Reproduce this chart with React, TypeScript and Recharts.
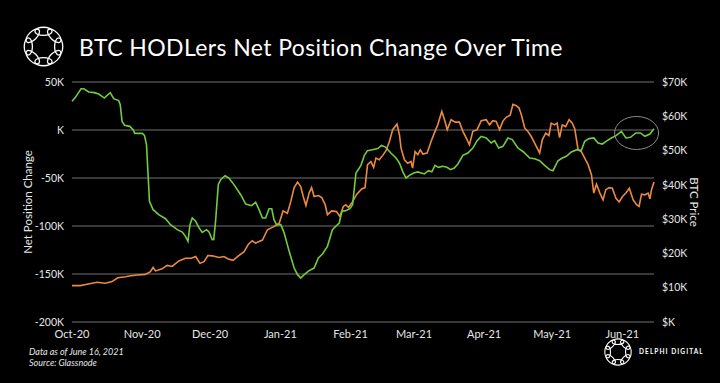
import React from 'react'
import { LineChart, Line, XAxis, YAxis, CartesianGrid, ReferenceDot } from 'recharts'

// days since Oct 1, 2020
const monthTicks = [0, 31, 61, 92, 123, 151, 182, 212, 243]
const monthLabels = ['Oct-20', 'Nov-20', 'Dec-20', 'Jan-21', 'Feb-21', 'Mar-21', 'Apr-21', 'May-21', 'Jun-21']

const leftTicks = [-200, -150, -100, -50, 0, 50]
const rightTicks = [0, 10, 20, 30, 40, 50, 60, 70]

// net position change, thousands of BTC
const netDays = [
  0, 1.5, 4, 5.2, 7.4, 9.9, 11.8, 14.3, 15.5, 16.9, 18.4, 20.6, 21.3, 22.1, 23.2, 25.5, 27, 27.7, 31, 32,
  32.9, 33.6, 34.2, 35.8, 38.3, 41.3, 43.5, 46.5, 48.7, 50.1, 51.2, 52.1, 53.1, 54.6, 56.1, 57.5, 59.4, 60.5,
  61.9, 62.6, 63.4, 64.6, 65.6, 67.6, 69.3, 71.5, 74.5, 76.7, 79.3, 81.1, 82.6, 84.1, 85.5, 87, 88.2, 89.2,
  90.3, 92.2, 93.7, 95.9, 98.1, 99.6, 101, 102.5, 104.7, 106.9, 108.8, 110.6, 112.8, 115, 116.5, 118, 119.2,
  120.9, 122.7, 123.9, 125.4, 127.6, 129.1, 130.5, 132.7, 135, 136.7, 138.6, 140.8, 143.1, 144.6, 146, 147.5,
  149, 150.9, 152.7, 154.2, 155.6, 157.4, 158.9, 160.3, 161.8, 163.7, 165.6, 167.1, 168.8, 170.4, 172.6,
  174.8, 177, 178.9, 180.7, 182.9, 185.1, 186.6, 188.4, 190.3, 192.5, 194.4, 196.9, 199.4, 202.1, 204.3,
  206.5, 208.7, 210.9, 212.4, 214.6, 216.5, 218.3, 220.5, 223, 224.9, 226.4, 228.3, 230.4, 232.3, 234.2,
  236.3, 238.2, 240.4, 242.6, 244.6, 246.6, 249, 251, 253, 255.2, 257,
]
const netValues = [
  29.9, 34, 43, 43, 39.6, 38.9, 37.5, 33.3, 36.1, 38.9, 32.6, 30.6, 26.4, 9, 4.9, 3.8, 0.3, -3.5, -3.5, -5.6,
  -15.3, -46.5, -74.3, -83, -88.2, -92.4, -98.6, -103.8, -106.3, -110.8, -116, -98.6, -91.7, -95.1, -102, -106.6, -103.8, -106.3,
  -114.2, -114, -95, -56.9, -51.7, -47.6, -50, -56.9, -67.4, -77.1, -78.8, -75.3, -83, -91.7, -91.7, -82, -82, -93.4,
  -98.6, -98.6, -107.3, -126.4, -143.8, -150.7, -154.2, -150.7, -146.5, -143.8, -133.3, -129.2, -121.2, -103.8, -100.3, -96.9, -84.7,
  -84, -82, -77.8, -44.8, -36.8, -26.4, -21.5, -20.5, -19.4, -16, -18.1, -24, -29.2, -34.4, -43.1, -50,
  -47.2, -44.8, -43.7, -44.8, -45.8, -42.4, -43.5, -36.8, -38.9, -37.8, -38.9, -41.3, -39.6, -35.4, -26.4,
  -24, -18.8, -11.1, -6.6, -8.3, -13.5, -11.1, -18.8, -17, -8.3, -10, -18.8, -22.9, -29.2, -30,
  -32, -36.8, -41.3, -42.4, -32, -29.2, -27.4, -22.9, -20.5, -21.5, -11.8, -9, -8.3, -13.5, -14.6,
  -11.1, -8.3, -5.6, -1.4, -8.3, -7.6, -3.1, -3.1, -6.6, -4.2, 1.4,
]

// BTC price, thousands of USD
const priceDays = [
  0, 3.7, 6.6, 11.1, 14.7, 17.7, 20.2, 23.6, 26.1, 28.8, 32.4, 34.6, 35.8, 36.9, 39.8, 42, 44.2, 47.2, 50.1,
  52.7, 54.6, 56.5, 58.3, 60, 61.9, 64.9, 67.1, 69, 71.1, 73.8, 76, 77.9, 79.6, 81.1, 82.6, 84.1, 86.3, 88.5,
  90.3, 91.5, 93.2, 95.1, 96.6, 98.1, 99.6, 101, 102.1, 103.3, 104.7, 105.8, 106.9, 108.8, 110.3, 111.8,
  112.8, 114.7, 116.8, 118.3, 119.8, 120.9, 122.1, 123.9, 125.7, 127.9, 129.4, 130.5, 132, 133.2, 134.2,
  135.7, 137.2, 138.6, 140.2, 141.6, 143.5, 144.6, 145.3, 146.8, 148.2, 149.7, 150.4, 151.5, 152.7, 153.8,
  154.9, 156.8, 158.6, 160.3, 161.5, 163.3, 164.5, 165.7, 167.4, 169.2, 171.1, 172.6, 174, 175.5, 177,
  178.9, 180.7, 182.9, 184.4, 185.8, 187.3, 188.8, 190.3, 191.7, 193.5, 194.7, 196.2, 197.4, 198.4, 199.9,
  201.3, 202.8, 204.3, 206.5, 207.7, 209.2, 210.6, 211.6, 213.1, 214.2, 215.3, 216.5, 218, 219.5, 220.9,
  222, 223.5, 224.9, 226.4, 227.9, 229.4, 230.4, 231.6, 233.1, 234.5, 235.7, 237.2, 238.6, 240.2, 241.6,
  243.1, 244.6, 246.1, 247.8, 249.3, 250.4, 251.5, 253, 254.4, 255.2, 255.9, 257,
]
const priceValues = [
  10.6, 10.6, 11.0, 11.6, 11.3, 11.8, 12.9, 13.2, 13.5, 13.7, 13.9, 14.7, 15.9, 14.9, 15.5, 16.5, 16.2, 17.8, 18.6,
  18.6, 19.1, 17.1, 17.6, 19.4, 19.3, 18.8, 19.1, 18.4, 18.0, 19.4, 20.5, 22.7, 23.7, 23.0, 23.5, 23.9, 26.9, 27.6,
  28.3, 28.8, 32.4, 31.7, 35.1, 39.2, 40.8, 39.5, 36.6, 34.0, 37.6, 39.2, 36.6, 36.9, 36.3, 34.2,
  31.3, 32.4, 32.2, 30.8, 33.7, 34.2, 33.4, 35.1, 37.2, 38.8, 39.2, 45.9, 46.8, 45.1, 47.8,
  47.3, 48.6, 49.9, 52.7, 56.1, 57.7, 54.6, 50.7, 47.3, 46.3, 46.8, 44.9, 49.7, 48.8, 50.2,
  49, 49.3, 52.7, 55.6, 57.5, 61.4, 59, 56.1, 59, 58.3, 58.3, 55.6, 53.8, 51.7, 55.6,
  56.1, 58.7, 59, 57.5, 58.7, 58.5, 56.1, 58.6, 59.7, 60.3, 63.5, 63.1, 62.4, 60.5, 56.6,
  55.6, 54.1, 52.2, 49.3, 53.2, 55.1, 54.4, 58, 57.5, 58, 53.8, 57.5, 57, 59, 58,
  56.4, 50.2, 49.7, 47.8, 45.9, 42.9, 37.6, 40.2, 37.6, 35.6, 38.6, 39.2, 39, 36.1, 35,
  36.6, 37.6, 39, 35.6, 34.2, 33.7, 37.3, 37.1, 37.6, 35.9, 38.6, 40.8,
]

type Row = { day: number; net?: number; price?: number }

const buildRows = (): Row[] => {
  const rows = new Map<number, Row>()
  netDays.forEach((d, i) => {
    const r = rows.get(d) ?? { day: d }
    r.net = netValues[i]
    rows.set(d, r)
  })
  priceDays.forEach((d, i) => {
    const r = rows.get(d) ?? { day: d }
    r.price = priceValues[i]
    rows.set(d, r)
  })
  return Array.from(rows.values()).sort((a, b) => a.day - b.day)
}

const data = buildRows()

const FONT = 'Lato, "Open Sans", sans-serif'
const TEXT = '#e6e6e6'

const RingLogo = ({ size, stroke }: { size: number; stroke: number }) => {
  const c = size / 2
  const loops = [0, 45, 90, 135, 180, 225, 270, 315]
  return (
    <svg width={size} height={size} viewBox={`0 0 ${size} ${size}`}>
      {loops.map((a) => (
        <ellipse
          key={a}
          cx={c}
          cy={c - size * 0.37}
          rx={size * 0.21}
          ry={size * 0.1}
          fill="none"
          stroke="#fff"
          strokeWidth={stroke}
          transform={`rotate(${a} ${c} ${c})`}
        />
      ))}
    </svg>
  )
}

const Ellipse = (props: any) => (
  <ellipse cx={props.cx} cy={props.cy} rx={22} ry={16.5} fill="none" stroke="#8a8a8a" strokeWidth={1} />
)

export default function App() {
  return (
    <div
      style={{
        position: 'absolute',
        left: 0,
        top: 0,
        width: 720,
        height: 383,
        background: '#000',
        overflow: 'hidden',
        fontFamily: FONT,
        color: TEXT,
      }}
    >
      <div style={{ position: 'absolute', left: 23, top: 26 }}>
        <RingLogo size={41} stroke={1.3} />
      </div>
      <div
        style={{
          position: 'absolute',
          left: 79,
          top: 34,
          fontSize: 23,
          letterSpacing: 0.4,
          lineHeight: '26px',
          color: '#fff',
          whiteSpace: 'nowrap',
        }}
      >
        BTC HODLers Net Position Change Over Time
      </div>

      <LineChart
        width={720}
        height={383}
        data={data}
        margin={{ top: 82, right: 6, bottom: 31, left: 12 }}
        style={{ position: 'absolute', left: 0, top: 0 }}
      >
        <CartesianGrid yAxisId="left" vertical={false} stroke="#707070" />
        <XAxis
          dataKey="day"
          type="number"
          domain={[0, 257]}
          ticks={monthTicks}
          tickFormatter={(v: number) => monthLabels[monthTicks.indexOf(v)] ?? ''}
          axisLine={false}
          tickLine={false}
          height={30}
          tick={{ fill: TEXT, fontSize: 11 }}
          interval={0}
        />
        <YAxis
          yAxisId="left"
          domain={[-200, 50]}
          ticks={leftTicks}
          tickFormatter={(v: number) => (v === 0 ? 'K' : `${v}K`)}
          axisLine={false}
          tickLine={false}
          width={60}
          tick={{ fill: TEXT, fontSize: 10.5 }}
          label={{
            value: 'Net Position Change',
            angle: -90,
            position: 'insideLeft',
            offset: 16,
            style: { textAnchor: 'middle', fill: TEXT, fontSize: 11.5 },
          }}
        />
        <YAxis
          yAxisId="right"
          orientation="right"
          domain={[0, 70]}
          ticks={rightTicks}
          tickFormatter={(v: number) => (v === 0 ? '$K' : `$${v}K`)}
          axisLine={false}
          tickLine={false}
          width={60}
          tick={{ fill: TEXT, fontSize: 10.5 }}
          label={{
            value: 'BTC Price',
            angle: 90,
            position: 'insideRight',
            offset: 20,
            style: { textAnchor: 'middle', fill: TEXT, fontSize: 11.5 },
          }}
        />
        <Line
          yAxisId="right"
          dataKey="price"
          type="linear"
          stroke="#ec8a3f"
          strokeWidth={1.6}
          dot={false}
          connectNulls
          isAnimationActive={false}
        />
        <Line
          yAxisId="left"
          dataKey="net"
          type="linear"
          stroke="#72cc3c"
          strokeWidth={1.6}
          dot={false}
          connectNulls
          isAnimationActive={false}
        />
        <ReferenceDot yAxisId="left" x={249.3} y={-3.1} shape={Ellipse} />
      </LineChart>

      <div
        style={{
          position: 'absolute',
          left: 29,
          top: 347,
          fontSize: 9,
          lineHeight: '10.5px',
          fontStyle: 'italic',
          color: TEXT,
        }}
      >
        Data as of June 16, 2021
        <br />
        Source: Glassnode
      </div>

      <div style={{ position: 'absolute', left: 604, top: 338 }}>
        <RingLogo size={28} stroke={1.1} />
      </div>
      <div
        style={{
          position: 'absolute',
          left: 639,
          top: 347,
          fontSize: 6.5,
          lineHeight: '10px',
          letterSpacing: 1.1,
          fontWeight: 700,
          color: '#fff',
          whiteSpace: 'nowrap',
        }}
      >
        DELPHI DIGITAL
      </div>
    </div>
  )
}
